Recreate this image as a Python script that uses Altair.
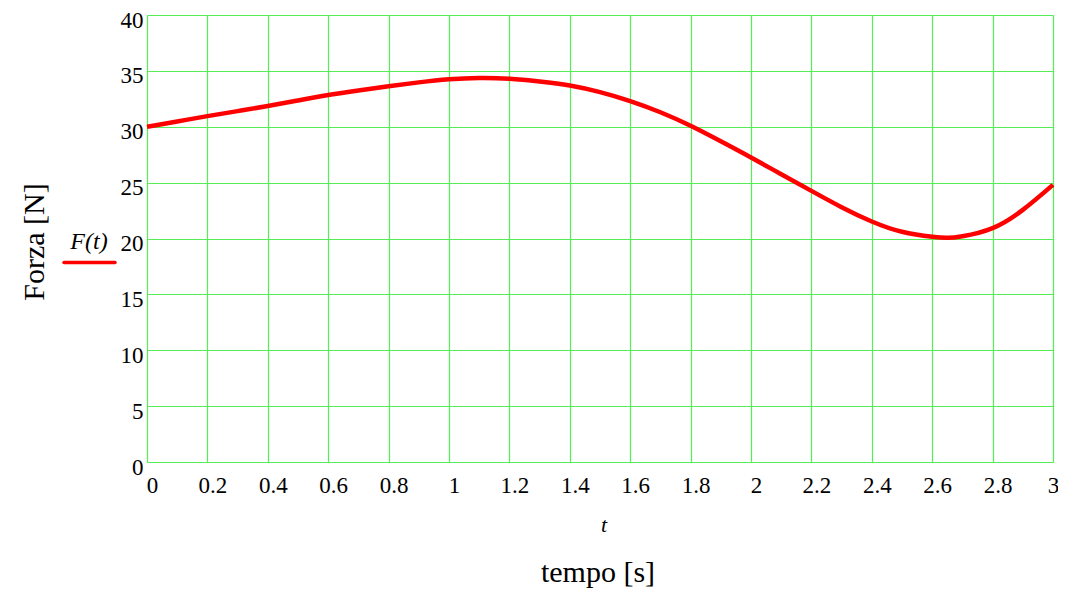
import altair as alt
import pandas as pd

t_vals = [0.0, 0.1, 0.2, 0.3, 0.4, 0.5, 0.6, 0.7, 0.8, 0.9, 1.0, 1.1, 1.2, 1.3,
          1.4, 1.5, 1.6, 1.7, 1.8, 1.9, 2.0, 2.1, 2.2, 2.3, 2.4, 2.5, 2.6, 2.65,
          2.7, 2.8, 2.9, 3.0]
f_vals = [30.0, 30.47, 30.95, 31.4, 31.85, 32.35, 32.84, 33.25, 33.62, 33.97,
          34.25, 34.37, 34.3, 34.05, 33.69, 33.1, 32.3, 31.3, 30.09, 28.7,
          27.25, 25.75, 24.26, 22.8, 21.52, 20.6, 20.15, 20.06, 20.2, 20.93,
          22.56, 24.8]
x_ticks = [0, 0.2, 0.4, 0.6, 0.8, 1, 1.2, 1.4, 1.6, 1.8, 2, 2.2, 2.4, 2.6, 2.8, 3]
y_ticks = [0, 5, 10, 15, 20, 25, 30, 35, 40]

FONT = "Liberation Serif"
W, H = 906, 447

df = pd.DataFrame({"t": t_vals, "F": f_vals})
one = pd.DataFrame({"a": [0]})

line = alt.Chart(df).mark_line(color="#ff0000", strokeWidth=4.5, interpolate="natural").encode(
    x=alt.X("t:Q", scale=alt.Scale(domain=[0, 3], nice=False, zero=False),
            axis=alt.Axis(values=x_ticks, format=".1~f", title=None, ticks=False,
                          domain=False, grid=True, gridColor="#55ee55", gridWidth=1.2,
                          labelFont=FONT, labelFontSize=23, labelColor="black",
                          labelPadding=12,
                          labelOffset=alt.condition("datum.value >= 3", alt.value(0), alt.value(5)),
                          labelFlush=False)),
    y=alt.Y("F:Q", scale=alt.Scale(domain=[0, 40], nice=False),
            axis=alt.Axis(values=y_ticks, title=None, ticks=False, domain=False,
                          grid=True, gridColor="#55ee55", gridWidth=1.2,
                          labelFont=FONT, labelFontSize=23, labelColor="black",
                          labelPadding=4, labelOffset=5, labelFlush=False)),
)

legend_rule = alt.Chart(one).mark_rule(color="#ff0000", strokeWidth=3.5, strokeCap="round").encode(
    x=alt.value(-83), x2=alt.value(-32), y=alt.value(247.5)
)
legend_text = alt.Chart(one).mark_text(text="F(t)", font=FONT, fontSize=24, fontStyle="italic",
                                       align="center", baseline="middle", color="black").encode(
    x=alt.value(-58), y=alt.value(227)
)
ytitle = alt.Chart(one).mark_text(text="Forza [N]", font=FONT, fontSize=30, angle=270,
                                  align="center", baseline="middle", color="black").encode(
    x=alt.value(-112), y=alt.value(227)
)
tlabel = alt.Chart(one).mark_text(text="t", font=FONT, fontSize=22, fontStyle="italic",
                                  align="center", baseline="middle", color="black").encode(
    x=alt.value(457), y=alt.value(510)
)
xtitle = alt.Chart(one).mark_text(text="tempo [s]", font=FONT, fontSize=30,
                                  align="center", baseline="middle", color="black").encode(
    x=alt.value(451), y=alt.value(558)
)

chart = alt.layer(line, legend_rule, legend_text, ytitle, tlabel, xtitle).properties(
    width=W, height=H,
    autosize=alt.AutoSizeParams(type="none"),
    padding={"left": 139, "top": 7, "right": 5, "bottom": 132},
).configure_view(stroke="black", strokeWidth=2).configure(background="white")

chart.save("out.html", embed_options={"renderer": "svg", "actions": False})
